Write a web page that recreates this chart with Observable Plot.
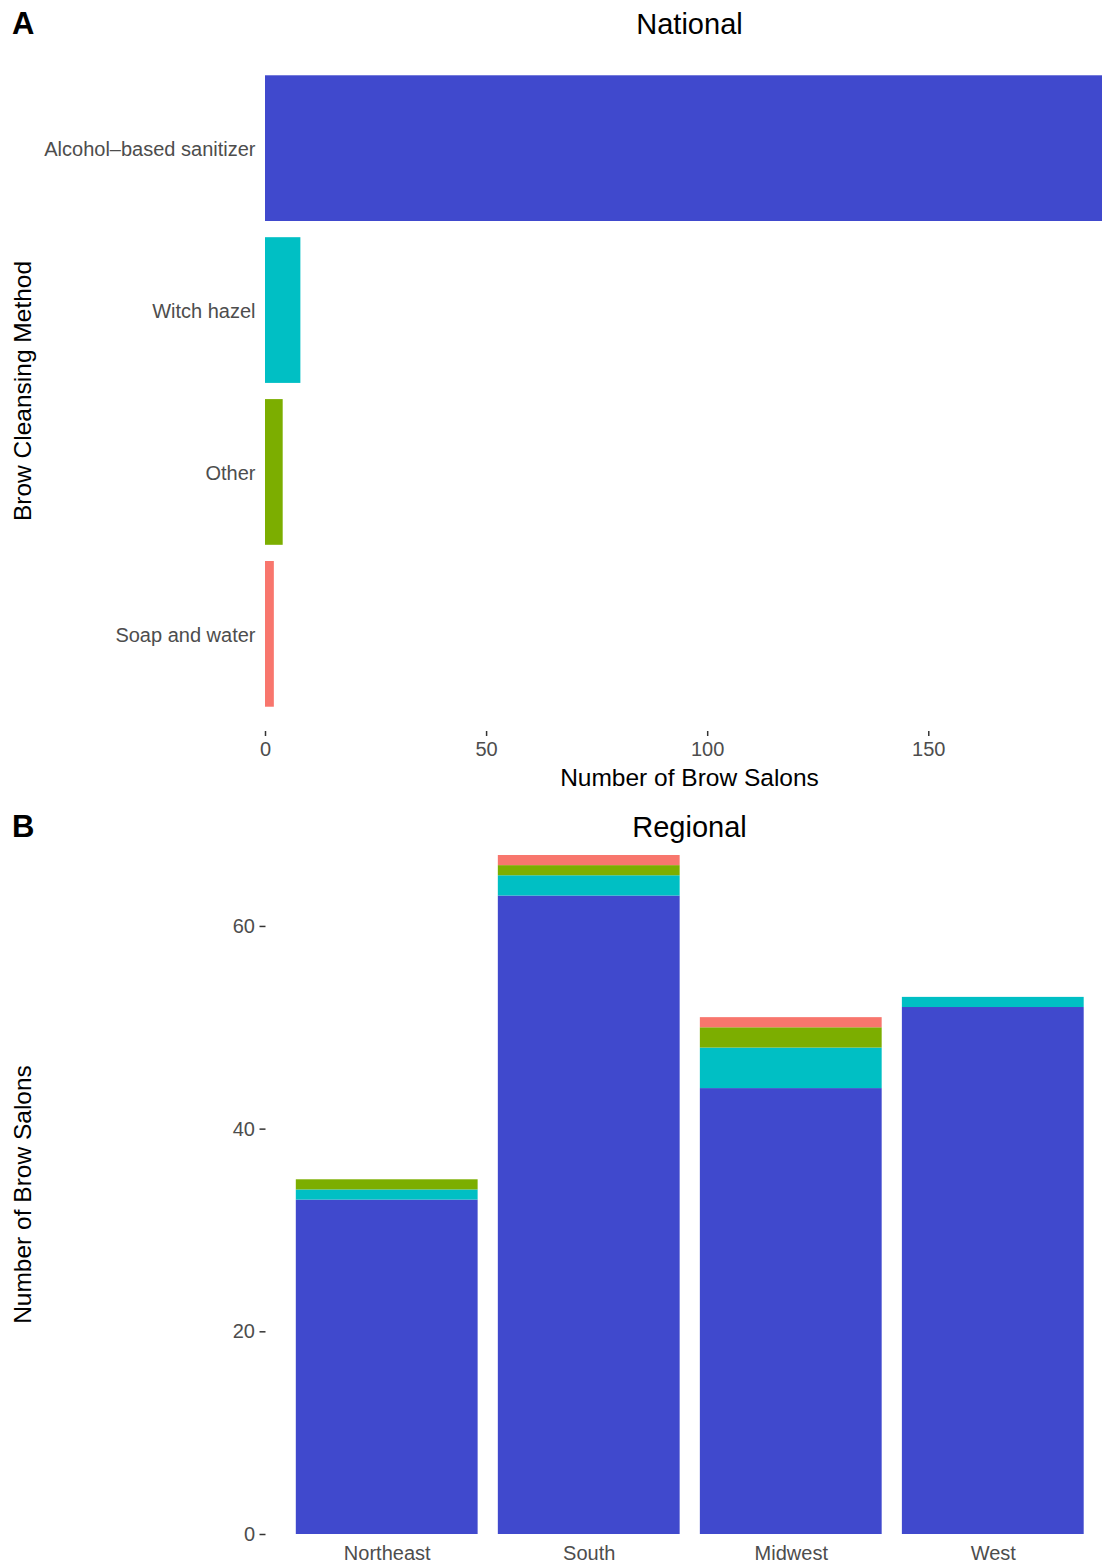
<!DOCTYPE html>
<html>
<head>
<meta charset="utf-8">
<script src="https://cdn.jsdelivr.net/npm/d3@7"></script>
<script src="https://cdn.jsdelivr.net/npm/@observablehq/plot@0.6"></script>
<style>
  html, body { margin: 0; padding: 0; background: #fff; overflow: hidden; }
  #chart { position: relative; width: 1102px; height: 1564px; overflow: hidden; background: #fff; }
  #chart > svg, #chart > div { position: absolute; left: 0; }
</style>
</head>
<body>
<div id="chart"></div>
<script>
// ---- data ----
const methods = ["Alcohol–based sanitizer", "Witch hazel", "Other", "Soap and water"];
const methodColors = ["#4049CD", "#00BFC4", "#7CAE00", "#F8766D"];
const nationalCounts = [192, 8, 4, 2];
const nationalTicks = [0, 50, 100, 150];

const regions = ["Northeast", "South", "Midwest", "West"];
const alcoholByRegion = [33, 63, 44, 52];
const witchHazelByRegion = [1, 2, 4, 1];
const otherByRegion = [1, 1, 2, 0];
const soapByRegion = [0, 1, 1, 0];
const regionalTicks = [0, 20, 40, 60];

// ---- tables ----
const national = methods.map((m, i) => ({method: m, count: nationalCounts[i]}));
const seriesByMethod = [alcoholByRegion, witchHazelByRegion, otherByRegion, soapByRegion];
const regional = [];
regions.forEach((r, j) => methods.forEach((m, i) => {
  if (seriesByMethod[i][j] > 0) regional.push({region: r, method: m, count: seriesByMethod[i][j]});
}));

const FONT = "'Liberation Sans', Arial, Helvetica, sans-serif";
const TICK_TEXT = "#4D4D4D";
const TICK_LINE = "#333333";
const chart = document.getElementById("chart");

// ---- Panel A: National ----
const plotA = Plot.plot({
  width: 1114, height: 800,
  marginLeft: 265, marginRight: 0, marginTop: 51, marginBottom: 69,
  style: {fontFamily: FONT, fontSize: "20px", maxWidth: "none", background: "transparent", overflow: "visible"},
  x: {domain: [0, d3.max(nationalCounts)], label: null},
  y: {domain: methods, paddingInner: 0.1, paddingOuter: 0.15, round: false, label: null},
  color: {domain: methods, range: methodColors},
  marks: [
    Plot.barX(national, {x: "count", y: "method", fill: "method"}),
    Plot.axisX({ticks: nationalTicks, tickSize: 5, tickPadding: 5, stroke: TICK_LINE, fill: TICK_TEXT, strokeWidth: 1.5, label: null}),
    Plot.axisY({tickSize: 0, tickPadding: 10, fill: TICK_TEXT, dy: 1, label: null})
  ]
});
plotA.style.top = "0px";
chart.appendChild(plotA);

// ---- Panel B: Regional ----
const plotB = Plot.plot({
  width: 1114, height: 764,
  marginLeft: 265.5, marginRight: 0, marginTop: 55, marginBottom: 30,
  style: {fontFamily: FONT, fontSize: "20px", maxWidth: "none", background: "transparent", overflow: "visible"},
  x: {domain: regions, paddingInner: 0.1, paddingOuter: 0.15, round: false, label: null},
  y: {domain: [0, 67], label: null},
  color: {domain: methods, range: methodColors},
  marks: [
    Plot.barY(regional, Plot.stackY({x: "region", y: "count", fill: "method", order: methods})),
    Plot.axisY({ticks: regionalTicks, tickSize: 6, tickPadding: 5, stroke: TICK_LINE, fill: TICK_TEXT, strokeWidth: 1.5, label: null}),
    Plot.axisX({tickSize: 0, tickPadding: 11, fill: TICK_TEXT, label: null})
  ]
});
plotB.style.top = "800px";
chart.appendChild(plotB);

// ---- titles & axis titles (overlay) ----
const overlay = d3.create("svg")
  .attr("width", 1102).attr("height", 1564)
  .style("position", "absolute").style("top", "0px").style("left", "0px")
  .style("pointer-events", "none")
  .style("font-family", FONT);

function label(text, x, y, size, opts = {}) {
  const t = overlay.append("text")
    .attr("x", x).attr("y", y)
    .attr("font-size", size)
    .attr("fill", "#000")
    .attr("text-anchor", opts.anchor || "middle")
    .attr("font-weight", opts.bold ? "bold" : "normal")
    .text(text);
  if (opts.rotate) t.attr("transform", `rotate(-90 ${x} ${y})`);
}
label("A", 12, 34, 31, {anchor: "start", bold: true});
label("National", 689.5, 34, 29);
label("Number of Brow Salons", 689.5, 786, 24.5);
label("Brow Cleansing Method", 31, 391, 24.5, {rotate: true});
label("B", 12, 837, 31, {anchor: "start", bold: true});
label("Regional", 689.5, 837, 29);
label("Number of Brow Salons", 31, 1194.5, 24.5, {rotate: true});
chart.appendChild(overlay.node());
</script>
</body>
</html>
